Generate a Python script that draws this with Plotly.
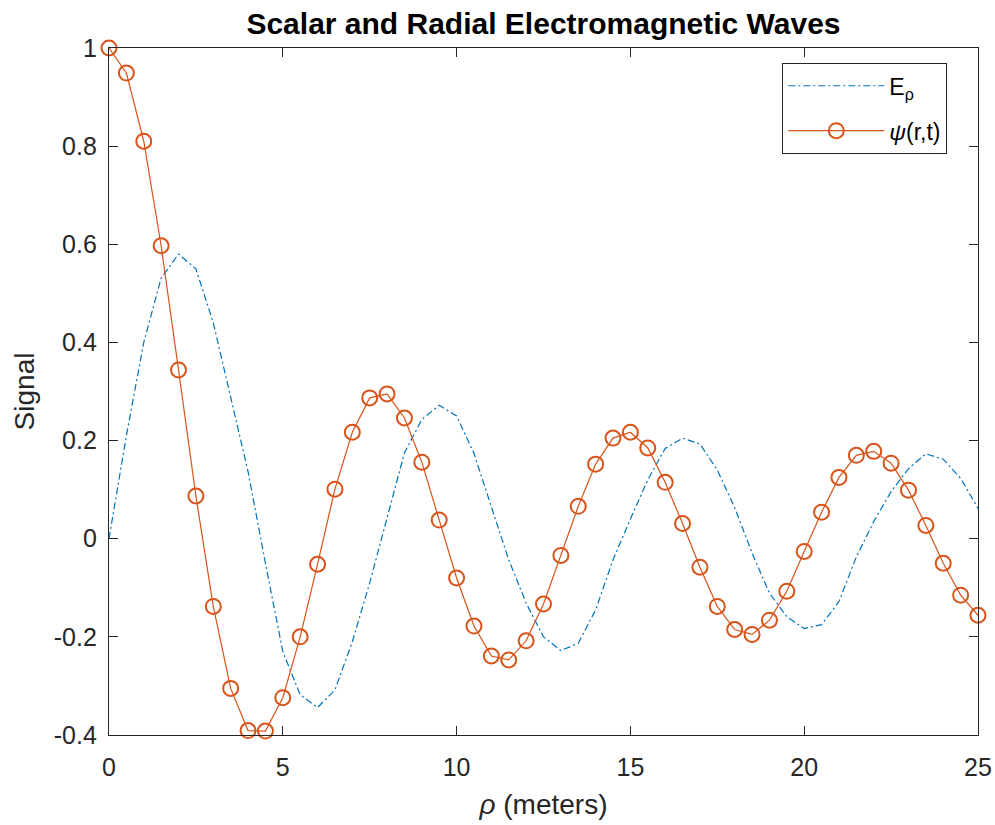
import plotly.graph_objects as go

rho = [i * 0.5 for i in range(51)]

psi_vals = [1.0, 0.949, 0.81, 0.597, 0.344, 0.087, -0.138, -0.305, -0.391, -0.392,
            -0.324, -0.20, -0.052, 0.101, 0.217, 0.287, 0.295, 0.246, 0.156, 0.038,
            -0.08, -0.178, -0.239, -0.247, -0.208, -0.133, -0.034, 0.066, 0.152, 0.205,
            0.217, 0.185, 0.115, 0.031, -0.058, -0.138, -0.185, -0.195, -0.166, -0.107,
            -0.026, 0.054, 0.125, 0.170, 0.178, 0.154, 0.099, 0.027, -0.050, -0.115, -0.156]

e_rho_vals = [0.0, 0.21, 0.40, 0.531, 0.58, 0.55, 0.44, 0.29, 0.137, -0.05,
              -0.23, -0.318, -0.344, -0.308, -0.21, -0.09, 0.045, 0.175, 0.243, 0.272,
              0.25, 0.174, 0.065, -0.043, -0.131, -0.2, -0.228, -0.213, -0.145, -0.043,
              0.04, 0.12, 0.184, 0.205, 0.193, 0.14, 0.063, -0.029, -0.111, -0.159,
              -0.183, -0.175, -0.128, -0.037, 0.035, 0.096, 0.143, 0.173, 0.162, 0.123, 0.062]

x_ticks = [0, 5, 10, 15, 20, 25]
y_ticks = [-0.4, -0.2, 0, 0.2, 0.4, 0.6, 0.8, 1]
y_tick_labels = ["-0.4", "-0.2", "0", "0.2", "0.4", "0.6", "0.8", "1"]

FONT = "Liberation Sans, Arial, sans-serif"
TXT = "#262626"
BLUE = "#0072BD"
ORANGE = "#D95319"

fig = go.Figure()
fig.add_trace(go.Scatter(
    x=rho, y=e_rho_vals, mode="lines", name="E<sub>ρ</sub>", legendgroup="a",
    line=dict(color=BLUE, width=1.2, dash="7px,3px,2px,3px"),
))
fig.add_trace(go.Scatter(
    x=rho, y=psi_vals, mode="lines+markers", name="<i>ψ</i>(r,t)", legendgroup="b",
    line=dict(color=ORANGE, width=1.2),
    marker=dict(symbol="circle-open", size=15, color=ORANGE, line=dict(width=2, color=ORANGE)),
    cliponaxis=False,
))

axis_common = dict(
    showgrid=False, zeroline=False, showline=True, linecolor=TXT, linewidth=1.3,
    mirror="ticks", ticks="inside", ticklen=9, tickwidth=1.3, tickcolor=TXT,
    tickfont=dict(family=FONT, size=25, color=TXT), automargin=False,
)

fig.update_layout(
    width=995, height=825,
    margin=dict(l=109, r=17, t=48, b=90),
    paper_bgcolor="white", plot_bgcolor="white",
    title=dict(text="<b>Scalar and Radial Electromagnetic Waves</b>",
               font=dict(family=FONT, size=30, color="black"),
               x=0.5, xref="paper", xanchor="center",
               y=1 - 23 / 825, yref="container", yanchor="middle", automargin=False),
    xaxis=dict(range=[0, 25], tickvals=x_ticks, ticklabelstandoff=10,
               title=dict(text="<i>ρ</i> (meters)", font=dict(family=FONT, size=28, color=TXT), standoff=14),
               **axis_common),
    yaxis=dict(range=[-0.4, 1], tickvals=y_ticks, ticktext=y_tick_labels, ticklabelstandoff=6,
               title=dict(text="Signal", font=dict(family=FONT, size=28, color=TXT), standoff=10),
               **axis_common),
    legend=dict(x=(947 - 109) / 869, xanchor="right", y=(735 - 63) / 687, yanchor="top",
                bgcolor="white", bordercolor=TXT, borderwidth=1.3,
                font=dict(family=FONT, size=23, color="black"),
                itemwidth=96, tracegroupgap=12),
    showlegend=True,
)

fig.write_html("out.html")
